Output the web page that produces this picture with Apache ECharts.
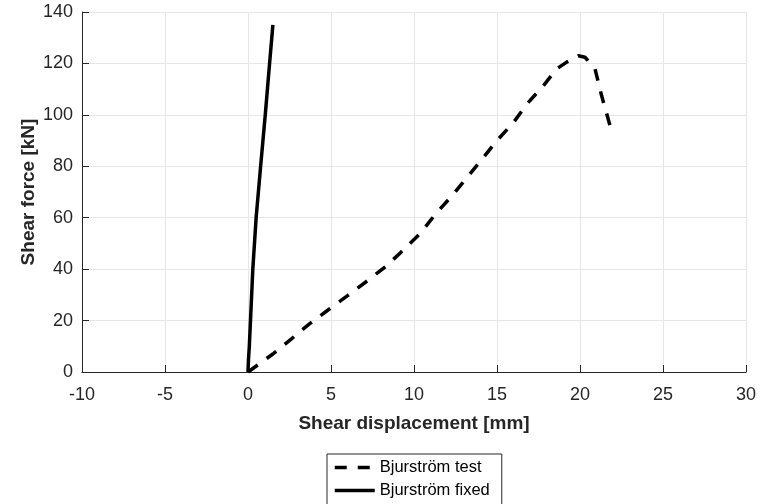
<!DOCTYPE html>
<html>
<head>
<meta charset="utf-8">
<script src="https://cdn.jsdelivr.net/npm/echarts@6/dist/echarts.min.js"></script>
<style>
  html, body { margin: 0; padding: 0; background: #fff; }
  #chart { width: 763px; height: 504px; }
</style>
</head>
<body>
<div id="chart"></div>
<script>
// values: [displacement mm, force kN]
var testCurve = [
  [0, 0], [1.5, 7], [2.6, 12.8], [3.7, 18.7], [4.9, 24.5], [6.0, 29.7], [7.2, 35.5],
  [8.35, 41.3], [9.2, 46.5], [10.4, 54], [11.3, 61.5], [12.3, 68.6], [13.2, 75.7],
  [14.1, 82.8], [15.0, 90], [16.0, 97.1], [16.8, 104.2], [17.8, 111.4], [18.6, 117.9],
  [19.2, 120.5], [19.9, 123], [20.3, 122.4], [20.9, 118], [21.3, 107.5], [21.8, 96]
];
var fixedCurve = [
  [0, 0], [0.03, 5], [0.08, 10], [0.15, 20], [0.29, 40], [0.49, 60], [0.76, 80], [1.04, 100],
  [1.3, 120], [1.5, 135]
];
var seriesNames = ['Bjurström test', 'Bjurström fixed'];
var xTitle = 'Shear displacement [mm]';
var yTitle = 'Shear force [kN]';

var font = 'Liberation Sans, Arial, Helvetica, sans-serif';
var myChart = echarts.init(document.getElementById('chart'));
var option = {
  animation: false,
  backgroundColor: '#fff',
  grid: { left: 82, right: 17, top: 12, bottom: 132, containLabel: false },
  xAxis: {
    type: 'value', min: -10, max: 30, interval: 5,
    name: xTitle, nameLocation: 'middle', nameGap: 42,
    nameTextStyle: { fontFamily: font, fontSize: 19, fontWeight: 'bold', color: '#262626' },
    axisLine: { show: true, onZero: false, lineStyle: { color: '#262626', width: 1 } },
    axisTick: { show: true, inside: true, length: 7, lineStyle: { color: '#262626' } },
    axisLabel: { fontFamily: font, fontSize: 18, color: '#262626', margin: 14 },
    splitLine: { show: true, lineStyle: { color: '#e6e6e6', width: 1 } }
  },
  yAxis: {
    type: 'value', min: 0, max: 140, interval: 20,
    name: yTitle, nameLocation: 'middle', nameGap: 44, nameRotate: 90,
    nameMoveOverlap: false,
    nameTextStyle: { fontFamily: font, fontSize: 19, fontWeight: 'bold', color: '#262626' },
    axisLine: { show: true, onZero: false, lineStyle: { color: '#262626', width: 1 } },
    axisTick: { show: true, inside: true, length: 7, lineStyle: { color: '#262626' } },
    axisLabel: { fontFamily: font, fontSize: 18, color: '#262626', margin: 9 },
    splitLine: { show: true, lineStyle: { color: '#e6e6e6', width: 1 } }
  },
  legend: {
    orient: 'vertical', left: 327, top: 454, width: 180, height: 60,
    borderColor: '#262626', borderWidth: 1, borderRadius: 0,
    padding: [5, 12, 14, 6], itemGap: 6, itemWidth: 40, itemHeight: 14,
    itemStyle: { opacity: 0 },
    lineStyle: { width: 3.5 },
    textStyle: { fontFamily: font, fontSize: 16.5, color: '#000' },
    data: seriesNames
  },
  series: [
    {
      name: seriesNames[0], type: 'line', data: testCurve,
      showSymbol: false, symbol: 'none', smooth: false,
      lineStyle: { color: '#000', width: 3.5, type: [12, 11] },
      itemStyle: { color: '#000' }
    },
    {
      name: seriesNames[1], type: 'line', data: fixedCurve,
      showSymbol: false, symbol: 'none', smooth: false,
      lineStyle: { color: '#000', width: 3.5, type: 'solid' },
      itemStyle: { color: '#000' }
    }
  ]
};
myChart.setOption(option);
</script>
</body>
</html>
